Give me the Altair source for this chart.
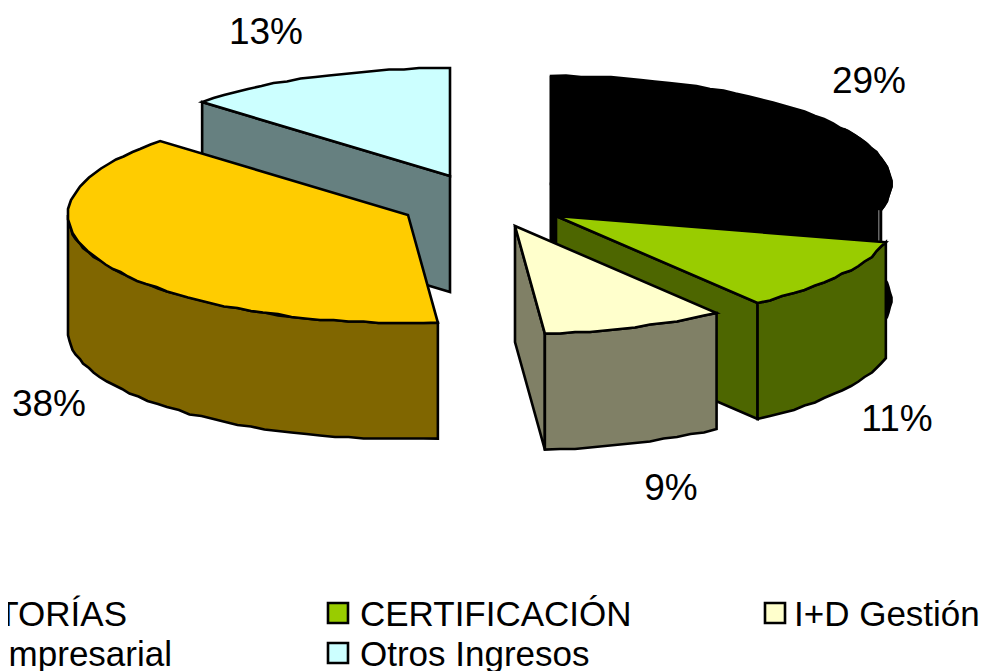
import math
import altair as alt
import pandas as pd

# Chart values
categories = ["AUDITORÍAS", "CERTIFICACIÓN", "I+D Gestión", "I+D Empresarial", "Otros Ingresos"]
values = [28.9, 11.0, 8.7, 38.4, 13.0]
labels = ["29%", "11%", "9%", "38%", "13%"]
top_colors = ["#000000", "#99CC00", "#FFFFCC", "#FFCC00", "#CCFFFF"]
side_colors = ["#000000", "#4D6600", "#808066", "#806600", "#668080"]

# Layout (page pixels; the SVG starts 8px into the page)
OFFSET = 8
A, B, DEPTH = 340, 108, 116
GRID = 1.5
apex = [(551, 184), (556, 216), (515, 226), (408, 215), (450, 176)]
label_pos = [(869, 82), (897, 420), (671, 489), (49, 405), (266, 33)]
swatch_pos = [(None, None), (338, 613), (775, 613), (None, None), (338, 653)]
legend_text_pos = [(127, 626), (360, 626), (794, 626), (172, 666), (360, 666)]
legend_align = ["right", "left", "left", "right", "left"]
draw_order = [4, 3, 0, 1, 2]


def pt(i, deg, dz=0.0):
    t = math.radians(deg)
    return (apex[i][0] + A * math.sin(t) - OFFSET,
            apex[i][1] - B * math.cos(t) + dz - OFFSET)


def arc(i, a0, a1, dz=0.0):
    n = max(2, int(abs(a1 - a0) / 2.5))
    out = []
    for k in range(n + 1):
        x, y = pt(i, a0 + (a1 - a0) * k / n, dz)
        if 0 < k < n:
            x, y = round(x / GRID) * GRID, round(y / GRID) * GRID
        out.append([x, y])
    return out


def feat(coords, fill, stroke="#000000", sw=2.6, closed=True):
    if closed:
        geom = {"type": "Polygon", "coordinates": [coords + [coords[0]]]}
    else:
        geom = {"type": "LineString", "coordinates": coords}
    return {"type": "Feature", "geometry": geom,
            "properties": {"fill": fill, "stroke": stroke, "sw": sw}}


bounds = []
cum = 0.0
for v in values:
    bounds.append((cum * 3.6, (cum + v) * 3.6))
    cum += v

features = []
for i in draw_order:
    a0, a1 = bounds[i]
    c = (apex[i][0] - OFFSET, apex[i][1] - OFFSET)
    c_low = [c[0], c[1] + DEPTH]
    p0, p1 = pt(i, a0), pt(i, a1)
    p0_low, p1_low = pt(i, a0, DEPTH), pt(i, a1, DEPTH)
    side, top = side_colors[i], top_colors[i]
    if i == 0:
        # black slice: every face is black
        features.append(feat([list(c), list(p0), list(p0_low), c_low], side))
        features.append(feat([list(c), list(p1), list(p1_low), c_low], side))
        features.append(feat(arc(i, 60, a1) + arc(i, a1, 60, DEPTH), side))
        features.append(feat([list(c)] + arc(i, a0, a1), top))
        features.append(feat([[p1[0] - 2, p1[1]], [p1[0] - 2, p1_low[1]]], "transparent", "#999999", 1, closed=False))
    elif i == 4:
        # cyan: radial face towards the viewer
        features.append(feat([list(p0), list(c), c_low, list(p0_low)], side))
        features.append(feat([list(c)] + arc(i, a0, a1), top))
    elif i == 3:
        # gold: outer wall, left to the front
        wall_end = 270
        features.append(feat(arc(i, a0, wall_end) + arc(i, wall_end, a0, DEPTH), side))
        features.append(feat([list(c)] + arc(i, a0, a1), top))
    else:
        # green, pale: left radial face and outer wall
        features.append(feat([list(c), list(p1), list(p1_low), c_low], side))
        features.append(feat(arc(i, a0, a1) + arc(i, a1, a0, DEPTH), side))
        features.append(feat([list(c)] + arc(i, a0, a1), top))

pie = (
    alt.Chart(alt.Data(values=features))
    .mark_geoshape()
    .encode(
        fill=alt.Fill("properties.fill:N", scale=None),
        stroke=alt.Stroke("properties.stroke:N", scale=None),
        strokeWidth=alt.StrokeWidth("properties.sw:Q", scale=None),
    )
    .project(type="identity", scale=1, translate=[0, 0])
)

FONT = "Liberation Sans"

pct = pd.DataFrame({
    "t": labels,
    "x": [p[0] - OFFSET for p in label_pos],
    "y": [p[1] - OFFSET for p in label_pos],
})
pct_text = alt.Chart(pct).mark_text(
    font=FONT, fontSize=37, align="center", baseline="middle", color="#000000"
).encode(
    x=alt.X("x:Q", scale=None), y=alt.Y("y:Q", scale=None), text="t:N"
)

leg = pd.DataFrame({
    "t": categories,
    "x": [p[0] - OFFSET for p in legend_text_pos],
    "y": [p[1] - OFFSET for p in legend_text_pos],
    "a": legend_align,
})
leg_layers = []
for al in ("left", "right"):
    leg_layers.append(
        alt.Chart(leg[leg["a"] == al]).mark_text(
            font=FONT, fontSize=35, align=al, baseline="alphabetic", color="#000000"
        ).encode(x=alt.X("x:Q", scale=None), y=alt.Y("y:Q", scale=None), text="t:N")
    )

sw = pd.DataFrame({
    "x": [p[0] - OFFSET for p in swatch_pos if p[0] is not None],
    "y": [p[1] - OFFSET for p in swatch_pos if p[0] is not None],
    "c": [top_colors[i] for i, p in enumerate(swatch_pos) if p[0] is not None],
})
swatches = alt.Chart(sw).mark_square(size=400, stroke="#000000", strokeWidth=2.6, opacity=1).encode(
    x=alt.X("x:Q", scale=None), y=alt.Y("y:Q", scale=None),
    fill=alt.Fill("c:N", scale=None),
)

chart = alt.layer(pie, pct_text, swatches, *leg_layers).properties(
    width=972, height=663, padding=0,
    autosize=alt.AutoSizeParams(type="none", contains="padding"),
    background="#FFFFFF",
).configure_view(stroke=None)

chart.save("out.html", embed_options={"renderer": "svg", "actions": False})
